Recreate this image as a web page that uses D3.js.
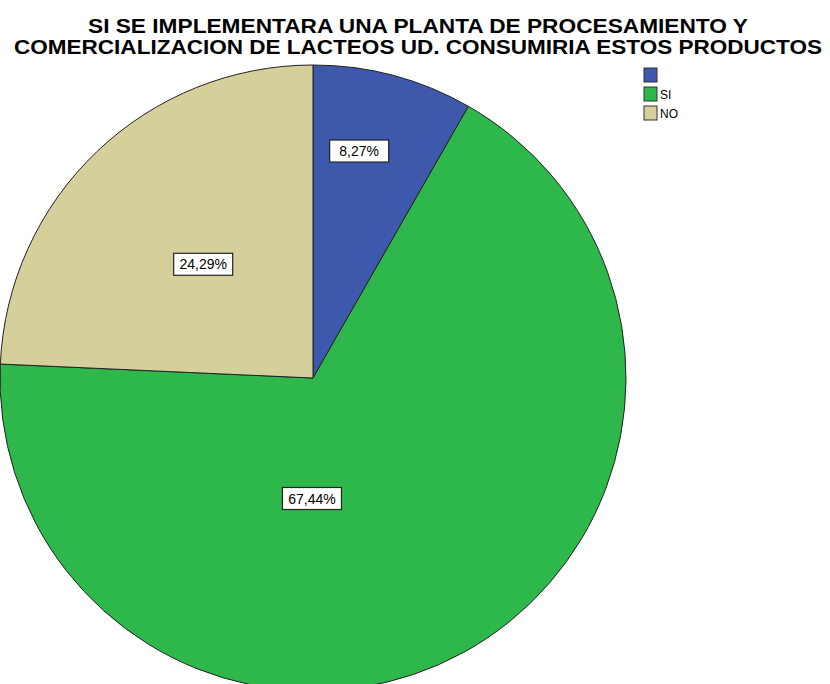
<!DOCTYPE html>
<html>
<head>
<meta charset="utf-8">
<script src="https://cdn.jsdelivr.net/npm/d3@7"></script>
<style>
  body { margin: 0; background: #fff; }
  svg { display: block; font-family: "Liberation Sans", Arial, sans-serif; }
</style>
</head>
<body>
<svg id="chart"></svg>
<script>
const categories = ["", "SI", "NO"]
const values = [8.27, 67.44, 24.29]
const colors = ["#3e58ac", "#2eb84b", "#d4cf9b"]
const titleLines = ["SI SE IMPLEMENTARA UNA PLANTA DE PROCESAMIENTO Y",
                    "COMERCIALIZACION DE LACTEOS UD. CONSUMIRIA ESTOS PRODUCTOS"]
// label placement per slice (angle in degrees from top, fraction of radius)
const labelAngle = [11.5, 180.5, 316]
const labelRadius = [0.74, 0.385, 0.505]

const w = 830, h = 684
const cx = 313, cy = 378, r = 313

const svg = d3.select("#chart")
    .attr("width", w)
    .attr("height", h)

// title
svg.selectAll("text.title")
    .data(titleLines)
    .join("text")
    .attr("class", "title")
    .attr("x", 418)
    .attr("y", (d, i) => 33 + i * 21)
    .attr("text-anchor", "middle")
    .attr("font-size", 21)
    .attr("font-weight", "bold")
    .attr("textLength", (d, i) => i == 0 ? 660 : 808)
    .attr("lengthAdjust", "spacingAndGlyphs")
    .text(d => d)

const pie = d3.pie().sort(null).value(d => d)
const arc = d3.arc().innerRadius(0).outerRadius(r)

const g = svg.append("g")
    .attr("transform", `translate(${cx},${cy})`)

g.selectAll("path")
    .data(pie(values))
    .join("path")
    .attr("d", arc)
    .attr("fill", (d, i) => colors[i])
    .attr("stroke", "#222")
    .attr("stroke-width", 1)

// labels
const labels = g.selectAll("g.lbl")
    .data(values)
    .join("g")
    .attr("class", "lbl")
    .attr("transform", (d, i) => {
        const a = labelAngle[i] * Math.PI / 180
        const rr = labelRadius[i] * r
        return `translate(${rr * Math.sin(a)},${-rr * Math.cos(a)})`
    })

labels.append("rect")
    .attr("x", -29.5)
    .attr("y", -11)
    .attr("width", 59)
    .attr("height", 22)
    .attr("fill", "#fff")
    .attr("stroke", "#222")
    .attr("stroke-width", 1.2)

labels.append("text")
    .attr("text-anchor", "middle")
    .attr("dy", "0.36em")
    .attr("font-size", 14)
    .text(d => d.toFixed(2).replace(".", ",") + "%")

// legend
const legend = svg.append("g")
    .attr("transform", "translate(644,68)")

const items = legend.selectAll("g")
    .data(categories)
    .join("g")
    .attr("transform", (d, i) => `translate(0,${i * 19})`)

items.append("rect")
    .attr("width", 13)
    .attr("height", 14)
    .attr("fill", (d, i) => colors[i])
    .attr("stroke", "#333")
    .attr("stroke-width", 1)

items.append("text")
    .attr("x", 16)
    .attr("y", 12)
    .attr("font-size", 12)
    .text(d => d)
</script>
</body>
</html>
